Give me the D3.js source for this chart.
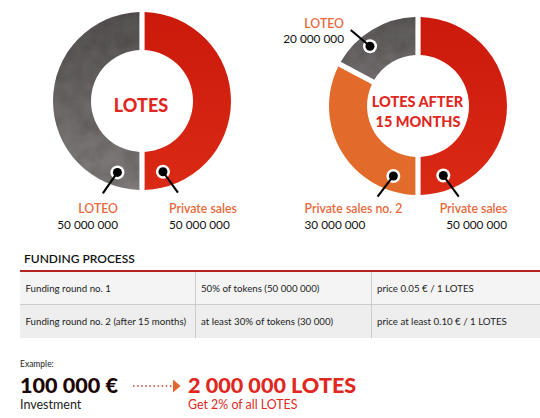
<!DOCTYPE html>
<html>
<head>
<meta charset="utf-8">
<script src="https://d3js.org/d3.v7.min.js"></script>
<style>
  html, body { margin: 0; padding: 0; background: #fff; }
  svg { display: block; }
  text { font-family: Lato, "Open Sans", sans-serif; }
</style>
</head>
<body>
<svg id="chart" width="540" height="418"></svg>
<script>
// slice shares as drawn in the picture (the grey/orange split is not quite 20/30)
var leftNames = ['Private sales', 'LOTEO'];
var leftShares = [50, 50];
var leftAmounts = ['50 000 000', '50 000 000'];

var rightNames = ['Private sales', 'Private sales no. 2', 'LOTEO'];
var rightShares = [50, 32.8, 17.2];
var rightAmounts = ['50 000 000', '30 000 000', '20 000 000'];

var tableTitle = 'FUNDING PROCESS';
var tableRow1 = ['Funding round no. 1', '50% of tokens (50 000 000)', 'price 0.05 € / 1 LOTES'];
var tableRow2 = ['Funding round no. 2 (after 15 months)', 'at least 30% of tokens (30 000)', 'price at least 0.10 € / 1 LOTES'];

var svg = d3.select('#chart');
var defs = svg.append('defs');

function grad(id, y1, y2, c1, c2) {
    var g = defs.append('linearGradient').attr('id', id)
        .attr('gradientUnits', 'userSpaceOnUse')
        .attr('x1', 0).attr('x2', 0).attr('y1', y1).attr('y2', y2);
    g.append('stop').attr('offset', 0).attr('stop-color', c1);
    g.append('stop').attr('offset', 1).attr('stop-color', c2);
}
// y runs from the centre of each donut
grad('redFill', -89, 89, '#cb190b', '#da2a15');
grad('greyLeft', -89, 89, '#545050', '#827c7c');
grad('greyRight', -89, -20, '#5a5656', '#767172');

// stone-like mottling on the grey slices
var stone = defs.append('filter').attr('id', 'stone')
    .attr('x', 0).attr('y', 0).attr('width', 1).attr('height', 1);
stone.append('feTurbulence').attr('type', 'fractalNoise').attr('baseFrequency', 0.06)
    .attr('numOctaves', 3).attr('seed', 4).attr('result', 'n');
stone.append('feColorMatrix').attr('in', 'n').attr('type', 'matrix')
    .attr('values', '0 0 0 0 0  0 0 0 0 0  0 0 0 0 0  0.55 0 0 0 -0.2').attr('result', 'm');
stone.append('feComposite').attr('in', 'm').attr('in2', 'SourceAlpha').attr('operator', 'in').attr('result', 'c');
stone.append('feMerge').selectAll('feMergeNode').data(['SourceGraphic', 'c']).join('feMergeNode').attr('in', d => d);

var pie = d3.pie().sort(null).value(d => d);

function donut(cx, cy, shares, fills) {
    var arc = d3.arc().innerRadius(51).outerRadius(89).padRadius(100).padAngle(0.052);
    var g = svg.append('g').attr('transform', `translate(${cx},${cy})`);
    g.selectAll('path').data(pie(shares)).join('path')
        .attr('d', arc)
        .attr('fill', (d, i) => fills[i].fill)
        .attr('filter', (d, i) => fills[i].stone ? 'url(#stone)' : null);
}

donut(142, 101, leftShares, [{ fill: 'url(#redFill)' }, { fill: 'url(#greyLeft)', stone: true }]);
donut(418, 106, rightShares, [{ fill: 'url(#redFill)' }, { fill: '#e26a2a' }, { fill: 'url(#greyRight)', stone: true }]);

// leader lines: dot at [angle deg, radius], line runs out to [angle deg, radius]
function leader(cx, cy, dotAngle, dotR, endAngle, endR) {
    var p = (a, r) => [cx + r * Math.sin(a * Math.PI / 180), cy - r * Math.cos(a * Math.PI / 180)];
    var d = p(dotAngle, dotR), e = p(endAngle, endR);
    svg.append('circle').attr('cx', d[0]).attr('cy', d[1]).attr('r', 7).attr('fill', '#fff');
    svg.append('line').attr('x1', d[0]).attr('y1', d[1]).attr('x2', e[0]).attr('y2', e[1])
        .attr('stroke', '#000').attr('stroke-width', 2.1);
    svg.append('circle').attr('cx', d[0]).attr('cy', d[1]).attr('r', 4.5).attr('fill', '#000');
}
leader(142, 101, 199, 75.5, 203, 100.3);
leader(142, 101, 163.5, 73.8, 158.6, 98.5);
leader(418, 106, 199.4, 74.2, 204, 99.3);
leader(418, 106, 160, 74, 155.8, 99.4);
leader(418, 106, 321.2, 76.6, 318.5, 101.5);

function label(x, y, txt, size, color, weight, anchor) {
    return svg.append('text').attr('x', x).attr('y', y).text(txt)
        .attr('font-size', size).attr('fill', color)
        .attr('font-weight', weight || 400)
        .attr('text-anchor', anchor || 'start');
}

var labelOrange = '#e8683a';
var red = '#e0281f';

label(141, 111.5, 'LOTES', 18, red, 900, 'middle');
label(417.5, 107, 'LOTES AFTER', 14.5, red, 900, 'middle');
label(418, 127, '15 MONTHS', 14.5, red, 900, 'middle');

label(118, 213, leftNames[1], 12.3, labelOrange, 600, 'end');
label(118, 229, leftAmounts[1], 11.8, '#111', 400, 'end');
label(169, 213, leftNames[0], 12.3, labelOrange, 600);
label(169, 229, leftAmounts[0], 11.8, '#111', 400);

label(344, 28, rightNames[2], 12.3, labelOrange, 600, 'end');
label(344, 43, rightAmounts[2], 11.8, '#111', 400, 'end');
label(304.5, 213, rightNames[1], 12.3, labelOrange, 600);
label(304.5, 229, rightAmounts[1], 11.8, '#111', 400);
label(507.5, 213, rightNames[0], 12.3, labelOrange, 600, 'end');
label(507, 229, rightAmounts[0], 11.8, '#111', 400, 'end');

// funding table
label(24, 263, tableTitle, 12, '#111', 600);

var colX = [20, 195.5, 371.5, 540];
var rowY = [272, 304.5, 338];
var rowFill = ['#f4f4f4', '#eeeeee'];
[tableRow1, tableRow2].forEach((row, r) => {
    svg.append('rect').attr('x', colX[0]).attr('y', rowY[r]).attr('width', colX[3] - colX[0])
        .attr('height', rowY[r + 1] - rowY[r]).attr('fill', rowFill[r]);
    row.forEach((cell, c) => {
        label(colX[c] + 5.5, rowY[r] + 20, cell, 9.7, '#222', 400);
    });
});
svg.append('line').attr('x1', colX[0]).attr('x2', colX[3]).attr('y1', rowY[1]).attr('y2', rowY[1])
    .attr('stroke', '#cccccc').attr('stroke-width', 1);
[colX[1], colX[2]].forEach(x => {
    svg.append('line').attr('x1', x).attr('x2', x).attr('y1', rowY[0]).attr('y2', rowY[2])
        .attr('stroke', '#cccccc').attr('stroke-width', 1);
});
svg.append('line').attr('x1', colX[0]).attr('x2', colX[3]).attr('y1', 271).attr('y2', 271)
    .attr('stroke', '#b22222').attr('stroke-width', 2);

// example
label(20, 367, 'Example:', 8.5, '#222', 400);
label(20, 392.5, '100 000 €', 21.6, '#1c0505', 900);
label(20, 409, 'Investment', 12.5, '#222', 400);
svg.append('line').attr('x1', 133).attr('x2', 174).attr('y1', 386).attr('y2', 386)
    .attr('stroke', '#c9402a').attr('stroke-width', 1.5).attr('stroke-dasharray', '1.5 2.6');
svg.append('path').attr('d', 'M173,379.5L180.5,386L173,392.5Z').attr('fill', '#e2662a');
label(188, 392.5, '2 000 000 LOTES', 21.6, red, 900);
label(188, 409, 'Get 2% of all LOTES', 12.4, red, 400);
</script>
</body>
</html>
